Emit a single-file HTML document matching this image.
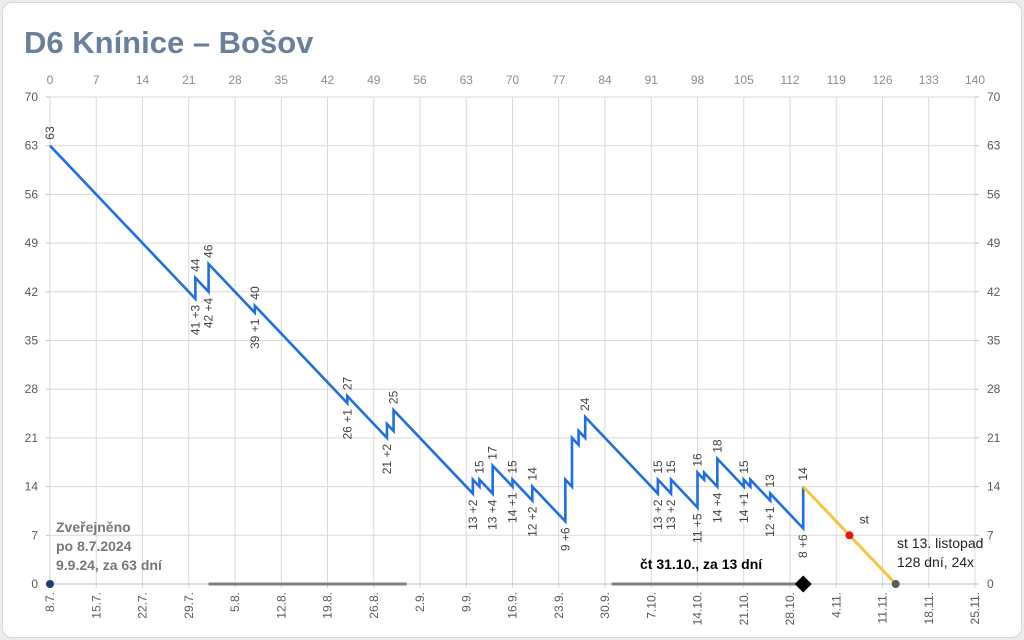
<!DOCTYPE html>
<html><head><meta charset="utf-8"><style>
body{margin:0;background:#ececec;font-family:"Liberation Sans",sans-serif;}
#card{position:absolute;left:2px;top:2px;width:1018px;height:634px;background:#fff;border:1px solid #d9d9d9;border-radius:10px;}
</style></head><body>
<div id="card"></div>
<svg id="chart" width="1024" height="640" style="position:absolute;left:0;top:0">
<text x="24" y="53" font-size="31" font-weight="bold" fill="#6a7f99">D6 Knínice – Bošov</text>
<g id="grid"></g><g id="axes"></g><g id="marks"></g><g id="labels"></g>
<text x="56" y="532" font-size="14" font-weight="bold" fill="#777"><tspan x="56">Zveřejněno</tspan><tspan x="56" dy="19">po 8.7.2024</tspan><tspan x="56" dy="19">9.9.24, za 63 dní</tspan></text>
<text x="640" y="569" font-size="14" font-weight="bold" fill="#000">čt 31.10., za 13 dní</text>
<text x="897" y="548" font-size="14" fill="#222"><tspan x="897">st 13. listopad</tspan><tspan x="897" dy="19">128 dní, 24x</tspan></text>
</svg>
<script>
const days=[0,22,22,24,24,31,31,45,45,51,51,52,52,64,64,65,65,67,67,70,70,73,73,78,78,79,79,80,80,81,81,92,92,94,94,98,98,99,99,101,101,105,105,106,106,109,109,114,114];
const values=[63,41,44,42,46,39,40,26,27,21,23,22,25,13,15,14,15,13,17,14,15,12,14,9,15,14,21,20,22,21,24,13,15,13,15,11,16,15,16,14,18,14,15,14,15,12,13,8,14];
const forecastDays=[114,128];
const forecastValues=[14,0];
const labelDays=[0,22,22,24,24,31,31,45,45,51,52,64,65,67,67,70,70,73,73,78,81,92,92,94,94,98,98,101,101,105,105,109,109,114,114];
const labelValues=[63,41,44,42,46,39,40,26,27,21,25,13,15,13,17,14,15,12,14,9,24,13,15,13,15,11,16,14,18,14,15,12,13,8,14];
const labelTexts=["63","41 +3","44","42 +4","46","39 +1","40","26 +1","27","21 +2","25","13 +2","15","13 +4","17","14 +1","15","12 +2","14","9 +6","24","13 +2","15","13 +2","15","11 +5","16","14 +4","18","14 +1","15","12 +1","13","8 +6","14"];
const labelSides=["up","down","up","down","up","down","up","down","up","down","up","down","up","down","up","down","up","down","up","down","up","down","up","down","up","down","up","down","up","down","up","down","up","down","up"];
const xTicks=[0,7,14,21,28,35,42,49,56,63,70,77,84,91,98,105,112,119,126,133,140];
const xTickLabels=["0","7","14","21","28","35","42","49","56","63","70","77","84","91","98","105","112","119","126","133","140"];
const dateLabels=["8.7.","15.7.","22.7.","29.7.","5.8.","12.8.","19.8.","26.8.","2.9.","9.9.","16.9.","23.9.","30.9.","7.10.","14.10.","21.10.","28.10.","4.11.","11.11.","18.11.","25.11."];
const yTicks=[0,7,14,21,28,35,42,49,56,63,70];
const ranges=[[24,54],[85,114]];
const redDot=[121,7];
const todayDay=114, endDay=128;

const NS="http://www.w3.org/2000/svg";
const X=d=>50+d*925/140, Y=v=>584-v*487/70;
function mk(tag,attrs,parent,txt){const e=document.createElementNS(NS,tag);for(const k in attrs)e.setAttribute(k,attrs[k]);if(txt!=null)e.textContent=txt;document.getElementById(parent).appendChild(e);return e;}

yTicks.forEach(v=>{
 let l=mk('line',{x1:X(0),x2:X(140),y1:Y(v),y2:Y(v),stroke:'#d9d9d9','stroke-width':1},'grid');
 
 
 let a=mk('text',{x:38,y:Y(v)+4,'font-size':12,fill:'#595959','text-anchor':'end'},'axes',String(v));
 
 
 let b=mk('text',{x:987,y:Y(v)+4,'font-size':12,fill:'#595959'},'axes',String(v));
 
 
 mk('line',{x1:X(0)-4,x2:X(0),y1:Y(v),y2:Y(v),stroke:'#bfbfbf'},'axes');
 mk('line',{x1:X(140),x2:X(140)+4,y1:Y(v),y2:Y(v),stroke:'#bfbfbf'},'axes');
});
xTicks.forEach((d,i)=>{
 let l=mk('line',{x1:X(d),x2:X(d),y1:Y(70),y2:Y(0)+4,stroke:'#d9d9d9'},'grid');
 
 
 let t=mk('text',{x:X(d),y:84,'font-size':12,fill:'#8c8c8c','text-anchor':'middle'},'axes',xTickLabels[i]);
 
 
 let b=mk('text',{transform:`translate(${X(d)+4},592) rotate(-90)`,'font-size':12,fill:'#595959','text-anchor':'end'},'axes',dateLabels[i]);
 
 
});
mk('line',{x1:X(0),x2:X(140),y1:Y(0),y2:Y(0),stroke:'#bfbfbf'},'axes');
ranges.forEach(r=>{
 let l=mk('line',{x1:X(r[0]),x2:X(r[1]),y1:Y(0),y2:Y(0),stroke:'#808080','stroke-width':3},'marks');
 
 
});
let p=mk('polyline',{points:days.map((d,i)=>X(d)+','+Y(values[i])).join(' '),fill:'none',stroke:'#1f6fe0','stroke-width':2.6,'stroke-linejoin':'miter'},'marks');


let f=mk('polyline',{points:forecastDays.map((d,i)=>X(d)+','+Y(forecastValues[i])).join(' '),fill:'none',stroke:'#f5c542','stroke-width':3},'marks');


let s=mk('circle',{cx:X(0),cy:Y(0),r:4,fill:'#1f3e6e'},'marks');


let e=mk('circle',{cx:X(endDay),cy:Y(0),r:4,fill:'#595959'},'marks');


let rd=mk('circle',{cx:X(redDot[0]),cy:Y(redDot[1]),r:4,fill:'#e8160c'},'marks');


let st=mk('text',{x:X(redDot[0])+10,y:Y(redDot[1])-12,'font-size':12,fill:'#333'},'labels','st');


let dm=mk('rect',{x:X(todayDay)-6,y:Y(0)-6,width:12,height:12,fill:'#000',transform:`rotate(45 ${X(todayDay)} ${Y(0)})`},'marks');


labelDays.forEach((d,i)=>{
 const up=labelSides[i]==='up';
 const x=X(d)+4, y=up?Y(labelValues[i])-6:Y(labelValues[i])+6;
 let t=mk('text',{transform:`translate(${x},${y}) rotate(-90)`,'font-size':12,fill:'#404040','text-anchor':up?'start':'end'},'labels',labelTexts[i]);
 
 
});
</script>
</body></html>
